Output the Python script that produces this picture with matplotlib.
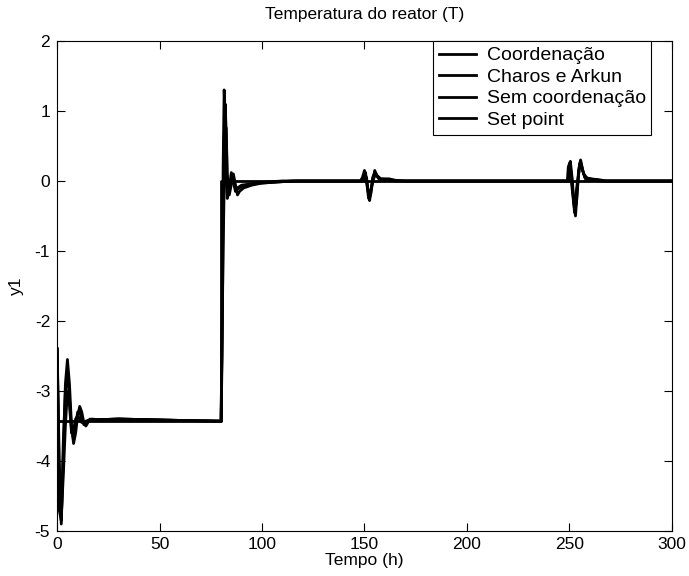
import matplotlib
matplotlib.use('Agg')
import matplotlib.pyplot as plt

plt.rcParams['font.family'] = ['Liberation Sans', 'DejaVu Sans']

# set point
t_sp = [0, 80, 80, 300]
y_sp = [-3.43, -3.43, 0, 0]

# Coordenacao
t_a = [0, 1, 2, 3, 4, 5, 6, 7, 8, 9, 10, 11, 12, 13, 14, 15, 16, 18, 20, 30, 45, 60, 80,
       80.5, 81, 81.5, 82, 82.5, 83, 84, 85, 86, 87, 88, 90, 93, 96, 100, 105, 110, 115,
       148, 149, 150, 151, 152, 153, 154, 155, 156, 158, 162, 165, 170,
       249, 249.5, 250.5, 251.5, 252.5, 253.5, 254.5, 255.5, 256.5, 258, 260, 264, 268, 300]
y_a = [-2.4, -4.3, -4.9, -3.9, -2.9, -2.55, -2.9, -3.5, -3.75, -3.6, -3.35, -3.22, -3.3, -3.45, -3.5, -3.45, -3.4, -3.42, -3.41, -3.4, -3.41, -3.42, -3.43,
       -2.0, 0.2, 1.3, 0.9, 0.0, -0.25, -0.1, 0.12, 0.0, -0.15, -0.12, -0.08, -0.06, -0.04, -0.03, -0.02, -0.01, 0,
       0, 0.05, 0.15, 0.0, -0.25, -0.2, 0.05, 0.12, 0.08, 0.03, 0.03, 0.01, 0,
       0, 0.2, 0.28, 0.0, -0.45, -0.3, 0.15, 0.3, 0.15, 0.02, 0.03, 0.02, 0, 0]

# Charos e Arkun
t_b = [0, 1, 2, 3, 4, 5, 6, 7, 8, 9, 10, 11, 12, 13, 14, 15, 17, 20, 30, 45, 60, 80,
       80.5, 81, 81.5, 82, 82.5, 83, 83.5, 84.5, 85.5, 86.5, 88, 90, 95, 100, 110,
       149, 150, 151, 152, 152.5, 153.5, 155, 156.5, 158, 165,
       249.5, 250, 251, 252, 253, 254, 255, 256, 257.5, 262, 266, 300]
y_b = [-2.4, -4.7, -4.85, -3.7, -3.0, -2.75, -3.1, -3.55, -3.7, -3.5, -3.3, -3.3, -3.4, -3.48, -3.45, -3.42, -3.4, -3.41, -3.4, -3.41, -3.42, -3.43,
       -2.5, -0.5, 0.6, 1.1, 0.7, 0.0, -0.2, -0.05, 0.05, -0.08, -0.1, -0.06, -0.04, -0.02, 0,
       0, 0.1, 0.05, -0.2, -0.28, -0.1, 0.15, 0.05, 0.02, 0,
       0, 0.25, 0.1, -0.3, -0.5, -0.1, 0.25, 0.2, 0.05, 0.02, 0, 0]

# Sem coordenacao
t_c = [0, 1, 2, 3, 4, 5, 6, 7, 8, 9, 10, 11, 12, 14, 16, 20, 30, 45, 60, 80,
       81, 82, 82.5, 83, 84, 85, 86, 87, 88, 89, 91, 95, 100, 110, 118,
       150, 150.5, 151.5, 152.5, 154, 155.5, 157, 162, 166,
       250, 250.5, 251.5, 252.5, 254, 255.5, 257, 259, 265, 300]
y_c = [-2.4, -4.0, -4.8, -4.2, -3.5, -3.0, -3.2, -3.6, -3.55, -3.4, -3.35, -3.4, -3.45, -3.43, -3.42, -3.41, -3.4, -3.41, -3.42, -3.43,
       -1.0, 0.8, 0.75, 0.1, -0.2, -0.05, 0.1, -0.05, -0.2, -0.15, -0.1, -0.06, -0.03, -0.01, 0,
       0, 0.12, -0.1, -0.22, 0.0, 0.1, 0.03, 0.02, 0,
       0, 0.15, -0.15, -0.35, 0.0, 0.28, 0.1, 0.03, 0, 0]

fs = 12.5

fig = plt.figure(figsize=(6.89, 5.76), dpi=100)
ax = fig.add_axes([0.083, 0.078, 0.892, 0.851])

ax.plot(t_a, y_a, color='black', lw=2.0, label='Coordenação')
ax.plot(t_b, y_b, color='black', lw=2.0, label='Charos e Arkun')
ax.plot(t_c, y_c, color='black', lw=2.0, label='Sem coordenação')
ax.plot(t_sp, y_sp, color='black', lw=2.0, label='Set point')

ax.set_xlim(0, 300)
ax.set_ylim(-5, 2)
ax.set_xticks([0, 50, 100, 150, 200, 250, 300])
ax.set_yticks([-5, -4, -3, -2, -1, 0, 1, 2])
ax.set_yticklabels(['-5', '-4', '-3', '-2', '-1', '0', '1', '2'])
ax.tick_params(direction='in', top=True, right=True, length=6, width=0.8,
               labelsize=fs)
ax.tick_params(axis='x', pad=4)
ax.tick_params(axis='y', pad=5)
for s in ax.spines.values():
    s.set_linewidth(0.8)

ax.set_xlabel('Tempo (h)', fontsize=fs, labelpad=1)
ax.set_ylabel('y1', fontsize=fs, labelpad=8)
ax.set_title('Temperatura do reator (T)', fontsize=fs, pad=16)

leg = ax.legend(loc='upper right', bbox_to_anchor=(0.967, 1.0), borderaxespad=0,
                fontsize=14, fancybox=False, framealpha=1, edgecolor='black',
                handlelength=1.9, handletextpad=0.55, labelspacing=0.2, borderpad=0.3)
leg.get_frame().set_linewidth(0.8)

plt.savefig('out.png')
